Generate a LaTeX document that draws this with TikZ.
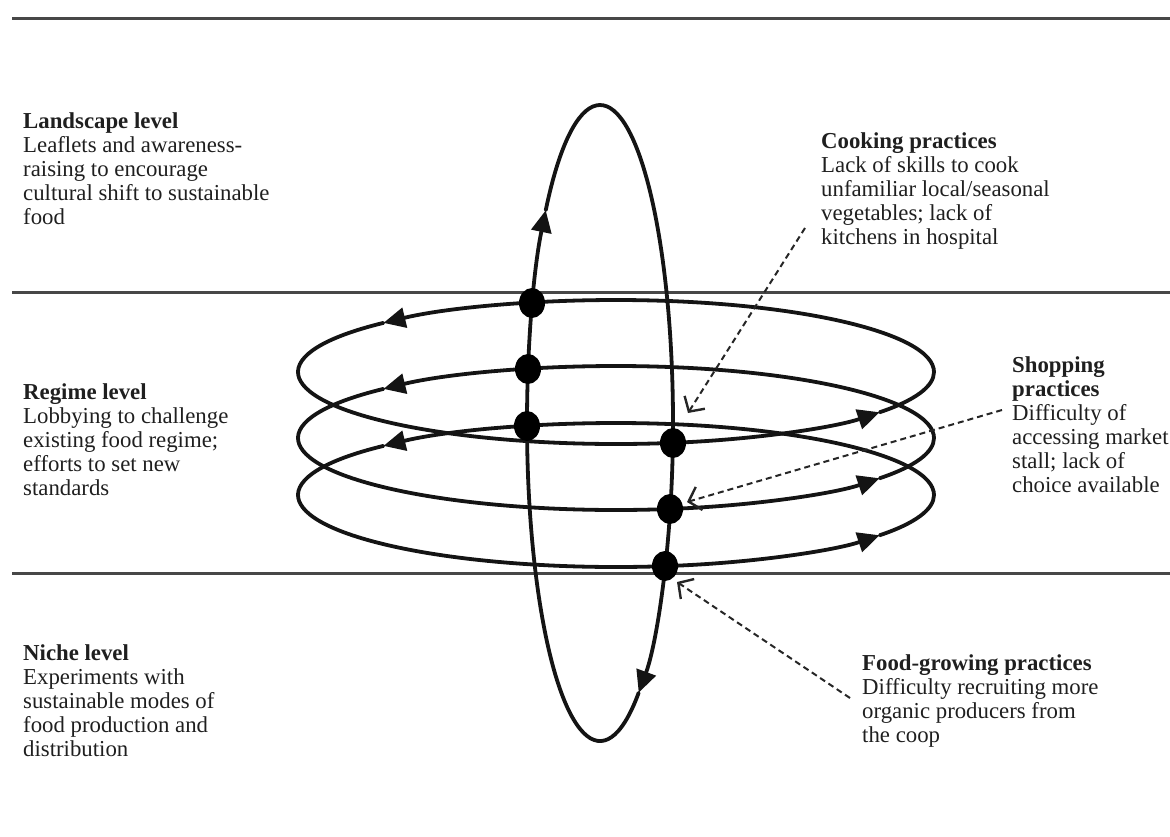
\documentclass[tikz,border=0pt]{standalone}
\usepackage{fontspec}
\setmainfont{Liberation Serif}
\usetikzlibrary{arrows.meta,calc,shapes.geometric}
\begin{document}
\begin{tikzpicture}[x=1pt,y=-1pt,
  rule/.style={line width=3pt, black!72},
  loopline/.style={line width=3.8pt, black!92, line cap=round},
  looptip/.style={-{Triangle[length=22pt,width=20pt]}},
  dotnode/.style={ellipse, fill=black, draw=none, minimum width=26pt, minimum height=30pt, inner sep=0pt},
  lbl/.style={anchor=base west, inner sep=0pt, text=black!88, font=\fontsize{22.8}{24}\selectfont},
  pointer/.style={line width=2pt, black!85, dash pattern=on 6pt off 4pt,
    -{Straight Barb[length=11pt,width=24pt,line width=2.4pt]}}
]
\useasboundingbox (0,0) rectangle (1170,836);

% level rules
\coordinate (r1a) at (12,18);  \coordinate (r1b) at (1170,18);
\coordinate (r2a) at (12,292); \coordinate (r2b) at (1170,292);
\coordinate (r3a) at (12,573); \coordinate (r3b) at (1170,573);
\draw[rule] (r1a) -- (r1b);
\draw[rule] (r2a) -- (r2b);
\draw[rule] (r3a) -- (r3b);

% horizontal loops
\foreach \cy in {372,438,495} {
  \draw[loopline,looptip] (934,\cy) arc[start angle=0,end angle=137,x radius=318pt,y radius=72pt];
  \draw[loopline,looptip] ($(616,\cy)+(137:318pt and 72pt)$) arc[start angle=137,end angle=326,x radius=318pt,y radius=72pt];
  \draw[loopline] ($(616,\cy)+(326:318pt and 72pt)$) arc[start angle=326,end angle=360,x radius=318pt,y radius=72pt];
}

% vertical loop
\draw[loopline,looptip] (527,423) arc[start angle=180,end angle=138,x radius=73pt,y radius=318pt];
\draw[loopline,looptip] ($(600,423)+(138:73pt and 318pt)$) arc[start angle=138,end angle=-58,x radius=73pt,y radius=318pt];
\draw[loopline] ($(600,423)+(-58:73pt and 318pt)$) arc[start angle=-58,end angle=-180,x radius=73pt,y radius=318pt];

% dots
\node[dotnode] (d1) at (532,303) {};
\node[dotnode] (d2) at (528,369) {};
\node[dotnode] (d3) at (527,426) {};
\node[dotnode] (d4) at (673,443) {};
\node[dotnode] (d5) at (670,509) {};
\node[dotnode] (d6) at (665,566) {};

% texts
\node[lbl] (land) at (23,128) {\begin{tabular}[t]{@{}l@{}}\textbf{Landscape level}\\ Leaflets and awareness-\\ raising to encourage\\ cultural shift to sustainable\\ food\end{tabular}};
\node[lbl] (regime) at (23,399) {\begin{tabular}[t]{@{}l@{}}\textbf{Regime level}\\ Lobbying to challenge\\ existing food regime;\\ efforts to set new\\ standards\end{tabular}};
\node[lbl] (niche) at (23,660) {\begin{tabular}[t]{@{}l@{}}\textbf{Niche level}\\ Experiments with\\ sustainable modes of\\ food production and\\ distribution\end{tabular}};
\node[lbl] (cook) at (821,148) {\begin{tabular}[t]{@{}l@{}}\textbf{Cooking practices}\\ Lack of skills to cook\\ unfamiliar local/seasonal\\ vegetables; lack of\\ kitchens in hospital\end{tabular}};
\node[lbl] (shop) at (1012,372) {\begin{tabular}[t]{@{}l@{}}\textbf{Shopping}\\ \textbf{practices}\\ Difficulty of\\ accessing market\\ stall; lack of\\ choice available\end{tabular}};
\node[lbl] (grow) at (862,670) {\begin{tabular}[t]{@{}l@{}}\textbf{Food-growing practices}\\ Difficulty recruiting more\\ organic producers from\\ the coop\end{tabular}};

% dashed pointers
\coordinate (cookS) at (805,228); \coordinate (cookT) at (688,413);
\coordinate (shopS) at (1002,410); \coordinate (shopT) at (687,502);
\coordinate (growS) at (850,698); \coordinate (growT) at (677,582);
\draw[pointer] (cookS) -- (cookT);
\draw[pointer] (shopS) -- (shopT);
\draw[pointer] (growS) -- (growT);
\end{tikzpicture}
\end{document}
